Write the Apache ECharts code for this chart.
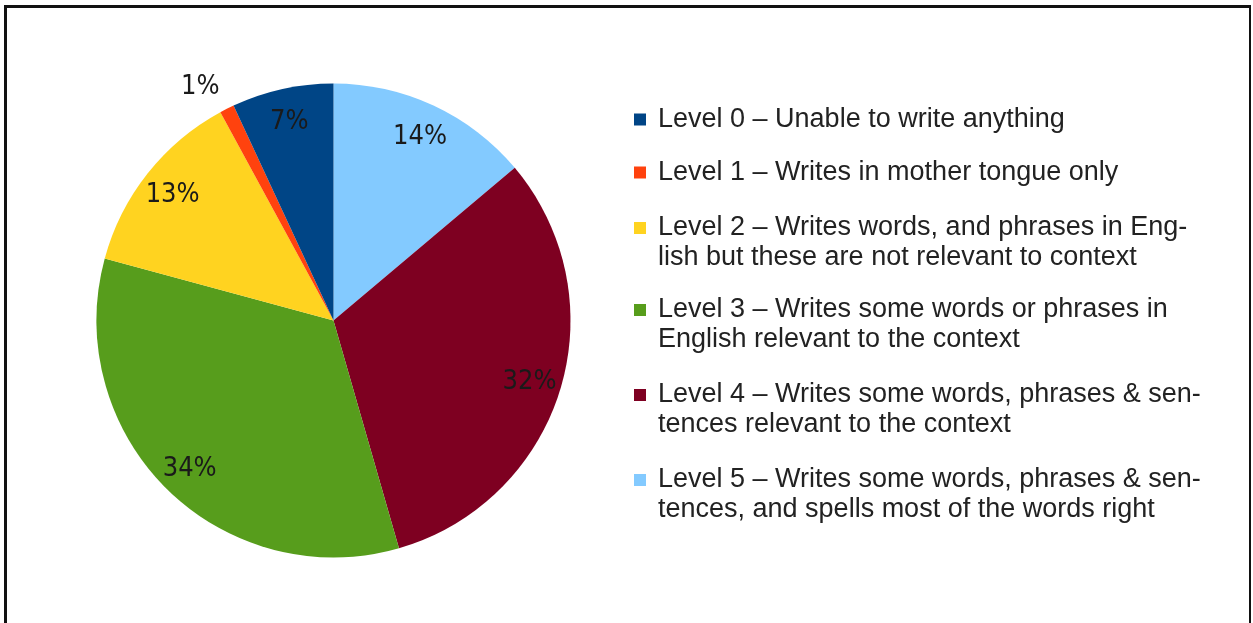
<!DOCTYPE html>
<html><head><meta charset="utf-8">
<script src="https://cdn.jsdelivr.net/npm/echarts@6/dist/echarts.min.js"></script>
<style>
html,body{margin:0;padding:0;background:#fff;}
#chart{position:absolute;left:0;top:0;width:1253px;height:623px;}
#frame{position:absolute;left:4px;top:5px;width:1242px;height:640px;border-top:3px solid #111;border-left:3px solid #111;border-right:2px solid #111;pointer-events:none;}
</style></head><body>
<div id="chart"></div><div id="frame"></div>
<script>
// ---- data ----
const categories = [
  'Level 0 – Unable to write anything',
  'Level 1 – Writes in mother tongue only',
  'Level 2 – Writes words, and phrases in Eng-\nlish but these are not relevant to context',
  'Level 3 – Writes some words or phrases in\nEnglish relevant to the context',
  'Level 4 – Writes some words, phrases & sen-\ntences relevant to the context',
  'Level 5 – Writes some words, phrases & sen-\ntences, and spells most of the words right'
];
const percentages = [7, 1, 13, 34, 32, 14];
const colors = ['#004586', '#ff420e', '#ffd320', '#579d1c', '#7e0021', '#83caff'];

// ---- layout ----
const CX = 333.5, CY = 320.5, R = 237;
const legendLineCenters = [119.5, 172.5, 228, 310, 395, 480];
const LH = 29.5;

// slices run clockwise from 12 o'clock: Level 5 first, Level 0 last
const order = [5, 4, 3, 2, 1, 0];
const pieData = order.map(i => ({ name: categories[i], value: percentages[i], itemStyle: { color: colors[i] } }));

const labelFont = { fontFamily: '"Liberation Sans Narrow", "DejaVu Sans Condensed", sans-serif', fontSize: 27, color: '#1a1a1a', textBorderWidth: 0 };

const labelData = order.map(i => ({
  name: categories[i], value: percentages[i],
  label: { show: percentages[i] > 2 }
}));
const smallLabelData = order.map(i => ({
  name: categories[i], value: percentages[i],
  label: { show: percentages[i] <= 2 }
}));

const legends = categories.map((name, i) => {
  const twoLine = name.indexOf('\n') >= 0;
  const top = twoLine ? legendLineCenters[i] - 1.5 * LH : legendLineCenters[i] - LH / 2;
  return {
    left: 634, top: top, orient: 'vertical', padding: 0,
    itemWidth: 12, itemHeight: 12, icon: 'rect', selectedMode: false,
    formatter: n => (n.indexOf('\n') >= 0 ? '\n' + n : n),
    textStyle: {
      fontFamily: '"Liberation Sans", Arial, sans-serif', fontSize: 27, color: '#222',
      lineHeight: LH, padding: [0, 0, 0, 7]
    },
    data: [name]
  };
});

const chart = echarts.init(document.getElementById('chart'), null, { renderer: 'canvas' });
chart.setOption({
  animation: false,
  backgroundColor: '#fff',
  legend: legends,
  series: [
    {
      type: 'pie', center: [CX, CY], radius: [0, R], startAngle: 90, clockwise: true,
      label: { show: false }, labelLine: { show: false },
      itemStyle: { borderWidth: 0 }, emphasis: { scale: false },
      data: pieData
    },
    {
      type: 'pie', center: [CX, CY + 2], radius: [0, 404], startAngle: 90, clockwise: true, silent: true,
      itemStyle: { color: 'rgba(0,0,0,0)', borderWidth: 0 },
      label: Object.assign({ position: 'inside', formatter: '{c}%' }, labelFont),
      labelLine: { show: false }, emphasis: { disabled: true },
      data: labelData
    },
    {
      type: 'pie', center: [CX - 10, CY + 11], radius: [0, 542], startAngle: 90, clockwise: true, silent: true,
      itemStyle: { color: 'rgba(0,0,0,0)', borderWidth: 0 },
      label: Object.assign({ position: 'inside', formatter: '{c}%' }, labelFont),
      labelLine: { show: false }, emphasis: { disabled: true },
      data: smallLabelData
    }
  ]
});
</script>
</body></html>
